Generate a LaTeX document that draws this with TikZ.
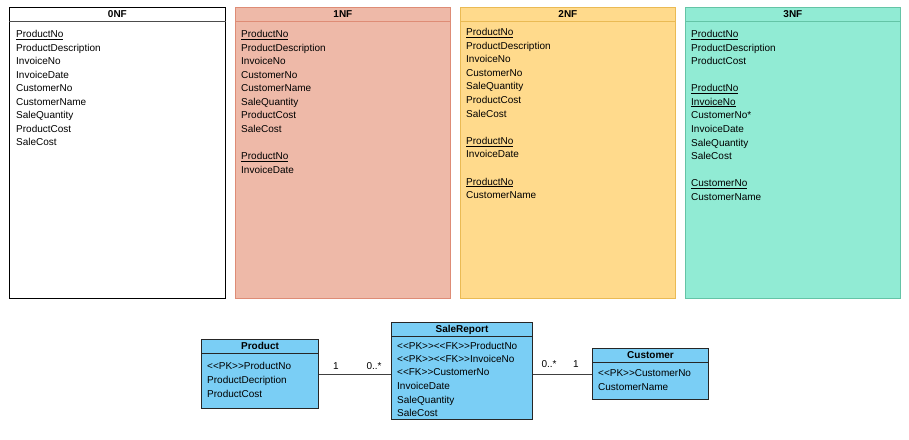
\documentclass[tikz,border=0pt]{standalone}
\usepackage{fontspec}
\setmainfont{Liberation Sans}

\definecolor{onefill}{RGB}{238,185,168}
\definecolor{oneline}{RGB}{222,140,118}
\definecolor{twofill}{RGB}{255,218,140}
\definecolor{twoline}{RGB}{234,186,84}
\definecolor{threefill}{RGB}{145,235,212}
\definecolor{threeline}{RGB}{100,196,166}
\definecolor{umlfill}{RGB}{122,206,245}

\tikzstyle{nfbox}=[draw,line width=0.8pt,anchor=north west,inner sep=0pt,minimum height=291pt]
\tikzstyle{umlbox}=[draw=black!85,line width=1pt,fill=umlfill,anchor=north west,inner sep=0pt]
\tikzstyle{title}=[font=\bfseries,inner sep=0pt,text height=7.5pt,text depth=2pt,yshift=-1pt]
\tikzstyle{field}=[anchor=west,inner sep=0pt,text height=7.5pt,text depth=2.5pt,yshift=-1pt]
\tikzstyle{mult}=[inner sep=0pt,text height=7.5pt,text depth=2.5pt,yshift=-1pt]
\tikzstyle{assoc}=[draw,line width=0.8pt,black!75]

\begin{document}
\begin{tikzpicture}[x=1pt,y=-1pt,font=\fontsize{10}{12}\selectfont]
    \useasboundingbox (0,0) rectangle (909,439);
    % First the four normal form tables
    \node[nfbox,fill=white,minimum width=216pt] (nf0) at (9,7) {};
    \node[nfbox,fill=onefill,draw=oneline,minimum width=215pt] (nf1) at (235,7) {};
    \node[nfbox,fill=twofill,draw=twoline,minimum width=215pt] (nf2) at (460,7) {};
    \node[nfbox,fill=threefill,draw=threeline,minimum width=215pt] (nf3) at (685,7) {};
    \foreach \name/\col/\label in {nf0/black!70/0NF, nf1/oneline/1NF, nf2/twoline/2NF, nf3/threeline/3NF}
    {
        \draw[\col,line width=0.8pt] ([yshift=-14pt]\name.north west) -- ([yshift=-14pt]\name.north east);
        \node[title] at ([yshift=-7pt]\name.north) {\label};
    }
    % Fields of each table
    \foreach \y/\txt in {34/\underline{ProductNo}, 47.5/ProductDescription, 61/InvoiceNo,
        74.5/InvoiceDate, 88/CustomerNo, 101.5/CustomerName, 115/SaleQuantity,
        128.5/ProductCost, 142/SaleCost}
        \node[field] at (16,\y) {\txt};
    \foreach \y/\txt in {34/\underline{ProductNo}, 47.5/ProductDescription, 61/InvoiceNo,
        74.5/CustomerNo, 88/CustomerName, 101.5/SaleQuantity, 115/ProductCost,
        128.5/SaleCost, 156/\underline{ProductNo}, 169.5/InvoiceDate}
        \node[field] at (241,\y) {\txt};
    \foreach \y/\txt in {32/\underline{ProductNo}, 45.5/ProductDescription, 59/InvoiceNo,
        72.5/CustomerNo, 86/SaleQuantity, 99.5/ProductCost, 113.5/SaleCost,
        141/\underline{ProductNo}, 154/InvoiceDate, 181.5/\underline{ProductNo}, 195/CustomerName}
        \node[field] at (466,\y) {\txt};
    \foreach \y/\txt in {34/\underline{ProductNo}, 47.5/ProductDescription, 61/ProductCost,
        88/\underline{ProductNo}, 101.5/\underline{InvoiceNo}, 115/CustomerNo*, 128.5/InvoiceDate,
        142.5/SaleQuantity, 156/SaleCost, 183/\underline{CustomerNo}, 196.5/CustomerName}
        \node[field] at (691,\y) {\txt};
    % Then the entity boxes below
    \node[umlbox,minimum width=117pt,minimum height=69pt] (product) at (201,339) {};
    \node[umlbox,minimum width=141pt,minimum height=97pt] (salereport) at (391,322) {};
    \node[umlbox,minimum width=116pt,minimum height=51pt] (customer) at (592,348) {};
    \foreach \name/\label in {product/Product, salereport/SaleReport, customer/Customer}
    {
        \draw[black!85,line width=0.8pt] ([yshift=-14pt]\name.north west) -- ([yshift=-14pt]\name.north east);
        \node[title] at ([yshift=-7pt]\name.north) {\label};
    }
    \foreach \y/\txt in {366/{<{}<PK>{}>ProductNo}, 380/ProductDecription, 394/ProductCost}
        \node[field] at (207,\y) {\txt};
    \foreach \y/\txt in {345.5/{<{}<PK>{}><{}<FK>{}>ProductNo}, 358.5/{<{}<PK>{}><{}<FK>{}>InvoiceNo},
        372/{<{}<FK>{}>CustomerNo}, 386/InvoiceDate, 399.5/SaleQuantity, 413/SaleCost}
        \node[field] at (397,\y) {\txt};
    \foreach \y/\txt in {372.5/{<{}<PK>{}>CustomerNo}, 386.5/CustomerName}
        \node[field] at (598,\y) {\txt};
    % Connect entities and write multiplicities
    \path[assoc] (product.east) -- (product.east -| salereport.west);
    \path[assoc] (customer.west) -- (customer.west -| salereport.east);
    \node[mult] (m1) at (336,366) {1};
    \node[mult] (m2) at (374,366) {0..*};
    \node[mult] (m3) at (549,364) {0..*};
    \node[mult] (m4) at (576,364) {1};
\end{tikzpicture}
\end{document}
